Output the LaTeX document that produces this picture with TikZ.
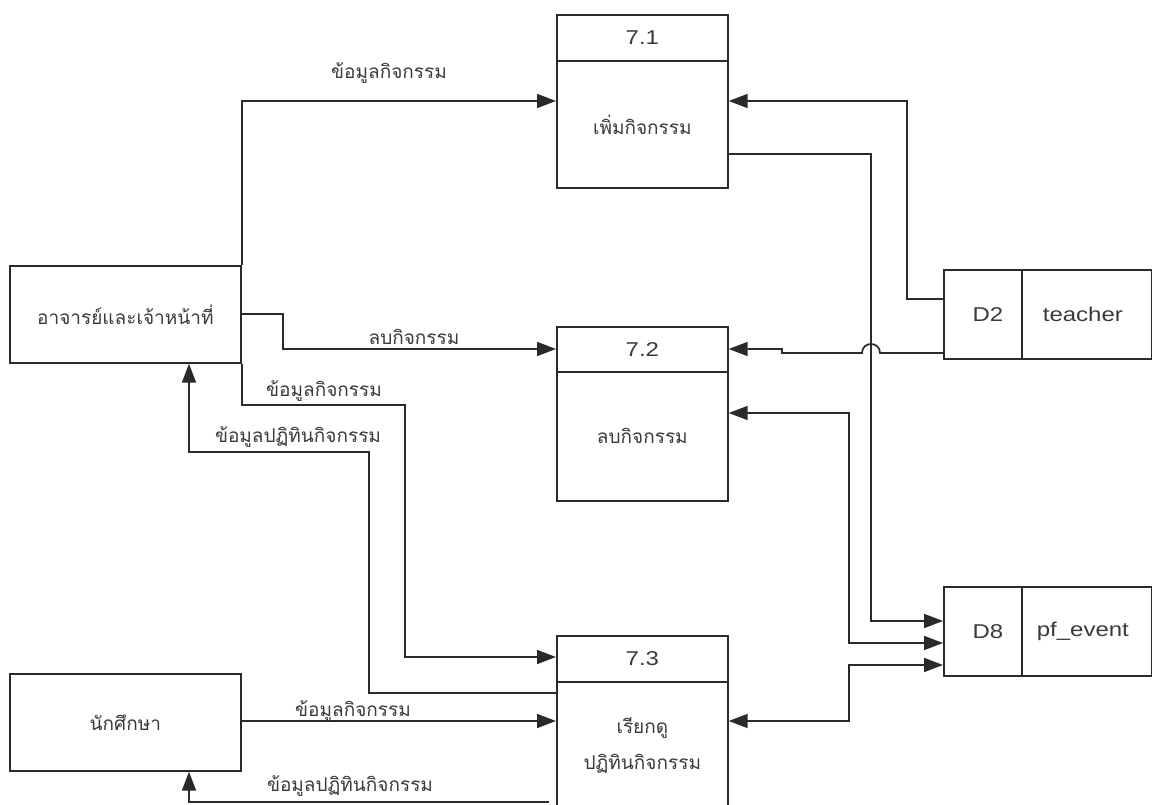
\documentclass[tikz,border=0pt]{standalone}
\usepackage{fontspec}
\setmainfont{Liberation Sans}[FakeStretch=1.2]
\newfontfamily\thai[Script=Thai]{Loma}
\usetikzlibrary{arrows.meta}
\definecolor{ln}{HTML}{2A2A2A}
\definecolor{tx}{HTML}{3A3A3A}
\begin{document}
\begin{tikzpicture}[x=1pt,y=-1pt,
  bx/.style={draw=ln,line width=1.7pt,inner sep=0pt,anchor=north west,text=tx,align=center},
  lat/.style={font=\fontsize{20}{24}\selectfont},
  th/.style={font=\thai\fontsize{19}{36}\selectfont},
  flow/.style={draw=ln,line width=1.7pt,-{Triangle[length=19pt,width=14pt]}},
  flowb/.style={draw=ln,line width=1.7pt,{Triangle[length=19pt,width=14pt]}-{Triangle[length=19pt,width=14pt]}},
  lbl/.style={th,text=tx,inner sep=1pt}]
\useasboundingbox[fill=white] (0,0) rectangle (1152,805);
% processes
\node[bx,lat,minimum width=171pt,minimum height=46pt] (p1h) at (556,14) {7.1};
\node[bx,th,minimum width=171pt,minimum height=127pt] (p1) at (556,60) {เพิ่มกิจกรรม};
\node[bx,lat,minimum width=171pt,minimum height=45pt] (p2h) at (556,326) {7.2};
\node[bx,th,minimum width=171pt,minimum height=129pt] (p2) at (556,371) {ลบกิจกรรม};
\node[bx,lat,minimum width=171pt,minimum height=46pt] (p3h) at (556,635) {7.3};
\node[bx,th,minimum width=171pt,minimum height=128pt] (p3) at (556,681) {เรียกดู\\ปฏิทินกิจกรรม};
% externals
\node[bx,th,minimum width=231pt,minimum height=97pt] (a1) at (9,265) {อาจารย์และเจ้าหน้าที่};
\node[bx,th,minimum width=231pt,minimum height=97pt] (a2) at (9,673) {นักศึกษา};
% stores
\node[bx,lat,minimum width=78pt,minimum height=89pt,text width=78pt,align=center] (d2) at (943,269) {\hspace*{10pt}D2};
\node[bx,lat,minimum width=130pt,minimum height=89pt] (d2n) at (1021,269) {teacher\hspace*{8pt}};
\node[bx,lat,minimum width=78pt,minimum height=89pt,text width=78pt,align=center] (d8) at (943,586) {\hspace*{10pt}D8};
\node[bx,lat,minimum width=130pt,minimum height=89pt] (d8n) at (1021,586) {pf\_event\hspace*{8pt}};
% flows from actor 1
\draw[flow] (a1.north east) |- (p1.west |- 0,101);
\draw[flow] (a1.south east) |- (405,405) |- (p3h.west |- 0,657);
\draw[flow] (a1.east |- 0,314) -- (283,314) |- (p2h.west |- 0,349);
\draw[flow] (p3.west |- 0,693) -| (369,452) -| (a1.south -| 189,0);
% actor 2
\draw[flow] (a2.east |- 0,721) -- (p3.west |- 0,721);
\draw[flow] (549,802) -| (a2.south -| 189,0);
% store D2
\draw[flow] (d2.west |- 0,299) -| (907,101) -- (p1.east |- 0,101);
\draw[flow] (d2.west |- 0,353) -- (880,353) .. controls (880,341) and (862,341) .. (862,353) -- (782,353) -- (782,349) -- (p2h.east |- 0,349);
% store D8
\draw[flow] (p1.east |- 0,154) -| (871,621) -- (d8.west |- 0,621);
\draw[flowb] (p2.east |- 0,413) -| (849,643) -- (d8.west |- 0,643);
\draw[flowb] (p3.east |- 0,721) -| (849,665) -- (d8.west |- 0,665);
% labels
\node[lbl] (l1) at (389,73) {ข้อมูลกิจกรรม};
\node[lbl] (l2) at (414,337) {ลบกิจกรรม};
\node[lbl] (l3) at (324,391) {ข้อมูลกิจกรรม};
\node[lbl] (l4) at (298,437) {ข้อมูลปฏิทินกิจกรรม};
\node[lbl] (l5) at (353,711) {ข้อมูลกิจกรรม};
\node[lbl] (l6) at (350,786) {ข้อมูลปฏิทินกิจกรรม};
\end{tikzpicture}
\end{document}
